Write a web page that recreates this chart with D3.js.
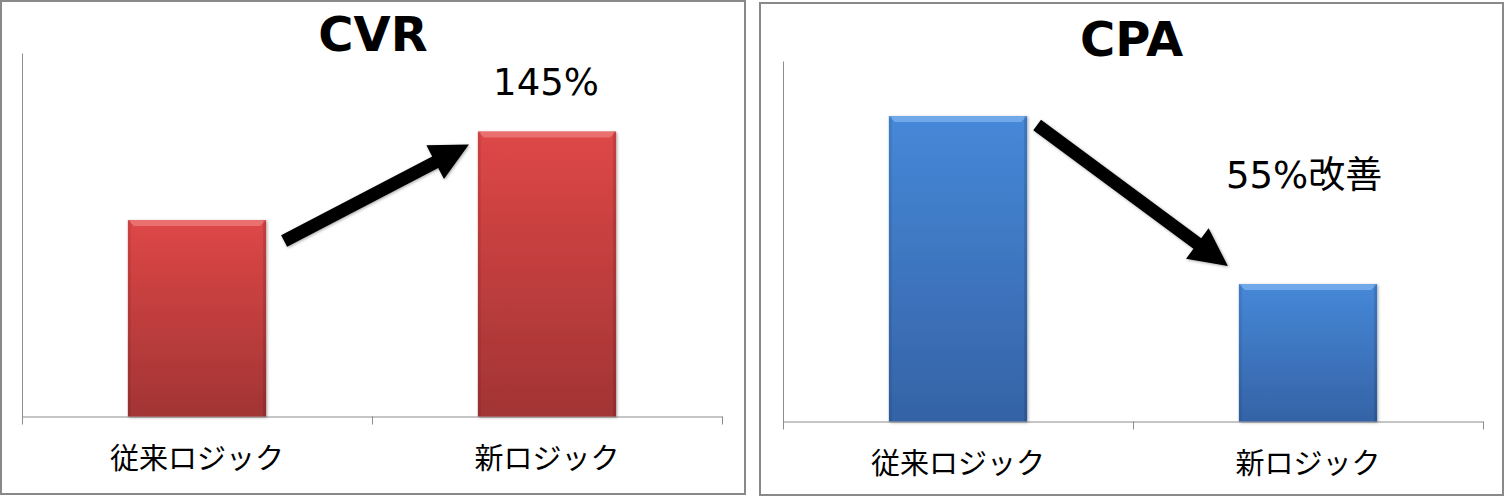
<!DOCTYPE html>
<html>
<head>
<meta charset="utf-8">
<script src="https://cdn.jsdelivr.net/npm/d3@7"></script>
<style>
  body { margin: 0; background: #fff; }
  svg { display: block; }
</style>
</head>
<body>
<script>
// Chart data
const categories = ["従来ロジック", "新ロジック"];
const titles = ["CVR", "CPA"];
const cvrValues = [1.00, 1.45];
const cpaValues = [1.00, 0.45];
const annotations = ["145%", "55%改善"];
const yMax = [1.85, 1.18];

const svg = d3.select("body")
    .append("svg")
    .attr("width", 1506)
    .attr("height", 497);

const defs = svg.append("defs");

// Bar gradients and shadow
const gradients = [
    { id: "redGrad", top: "#de4747", bottom: "#a23434", bevel: "#ee7b7b" },
    { id: "blueGrad", top: "#4688d8", bottom: "#3563a6", bevel: "#7cb0ee" }
];
gradients.forEach(g => {
    const lg = defs.append("linearGradient")
        .attr("id", g.id)
        .attr("x1", 0).attr("y1", 0).attr("x2", 0).attr("y2", 1);
    lg.append("stop").attr("offset", "0%").attr("stop-color", g.top);
    lg.append("stop").attr("offset", "100%").attr("stop-color", g.bottom);
});

const shadow = defs.append("filter")
    .attr("id", "shadow")
    .attr("x", "-10%").attr("y", "-10%")
    .attr("width", "130%").attr("height", "130%");
shadow.append("feDropShadow")
    .attr("dx", 1).attr("dy", 1)
    .attr("stdDeviation", 1.5)
    .attr("flood-color", "#000")
    .attr("flood-opacity", 0.35);

// Panel layout
const panels = [
    {
        frame: [1, 1, 744, 493], x0: 22, x1: 722, yTop: 53, yBase: 416.5,
        titleY: 51, values: cvrValues, max: yMax[0], grad: gradients[0],
        note: annotations[0], noteX: 546, noteY: 95, noteAnchor: "middle",
        tailOff: [18, 21], tipOff: [-9, 13]
    },
    {
        frame: [760, 3, 743, 492], x0: 783, x1: 1483, yTop: 61, yBase: 421.5,
        titleY: 56, values: cpaValues, max: yMax[1], grad: gradients[1],
        note: annotations[1], noteX: 1226, noteY: 188, noteAnchor: "start",
        tailOff: [10, 9], tipOff: [-11, -18]
    }
];

// Thick arrow polygon from tail to tip
function arrowPoints(tail, tip) {
    const shaft = 6.5, headLen = 38, headHalf = 19;
    const dx = tip[0] - tail[0], dy = tip[1] - tail[1];
    const len = Math.hypot(dx, dy);
    const ux = dx / len, uy = dy / len;
    const nx = -uy, ny = ux;
    const bx = tip[0] - ux * headLen, by = tip[1] - uy * headLen;
    return [
        [tail[0] + nx * shaft, tail[1] + ny * shaft],
        [bx + nx * shaft, by + ny * shaft],
        [bx + nx * headHalf, by + ny * headHalf],
        tip,
        [bx - nx * headHalf, by - ny * headHalf],
        [bx - nx * shaft, by - ny * shaft],
        [tail[0] - nx * shaft, tail[1] - ny * shaft]
    ].map(p => p.join(",")).join(" ");
}

panels.forEach((p, i) => {
    const g = svg.append("g");

    // Outer frame
    g.append("rect")
        .attr("x", p.frame[0]).attr("y", p.frame[1])
        .attr("width", p.frame[2]).attr("height", p.frame[3])
        .attr("fill", "#fff")
        .attr("stroke", "#898989")
        .attr("stroke-width", 2);

    const x = d3.scaleBand()
        .domain(categories)
        .range([p.x0, p.x1])
        .paddingInner(0.605)
        .paddingOuter(0.3025);

    const y = d3.scaleLinear()
        .domain([0, p.max])
        .range([p.yBase, p.yTop]);

    // Title
    g.append("text")
        .attr("x", (p.frame[0] * 2 + p.frame[2]) / 2)
        .attr("y", p.titleY)
        .attr("text-anchor", "middle")
        .attr("font-family", "'DejaVu Sans', sans-serif")
        .attr("font-weight", "bold")
        .attr("font-size", 48)
        .text(titles[i]);

    // Value axis: line only
    g.append("g")
        .attr("transform", `translate(${p.x0},0)`)
        .call(d3.axisLeft(y).tickValues([]).tickSizeOuter(0))
        .select(".domain")
        .attr("stroke", "#8c8c8c");

    // Category axis: ticks at band boundaries
    const edges = d3.scaleLinear().domain([0, categories.length]).range([p.x0, p.x1]);
    const xAxis = g.append("g")
        .attr("transform", `translate(0,${p.yBase})`)
        .call(d3.axisBottom(edges)
            .tickValues(d3.range(categories.length + 1))
            .tickFormat("")
            .tickSize(8)
            .tickSizeOuter(0));
    xAxis.selectAll("line, path").attr("stroke", "#8c8c8c");

    // Category labels
    g.append("g")
        .attr("transform", `translate(0,${p.yBase})`)
        .call(d3.axisBottom(x).tickSize(0).tickPadding(0))
        .call(a => a.select(".domain").remove())
        .selectAll("text")
        .attr("dy", null)
        .attr("y", 52)
        .attr("fill", "#000")
        .attr("font-family", "'Noto Sans CJK JP', sans-serif")
        .attr("font-size", 29);

    // Bars
    const bars = g.selectAll(".bar")
        .data(p.values)
        .enter()
        .append("g")
        .attr("class", "bar");

    bars.append("rect")
        .attr("x", (d, j) => x(categories[j]))
        .attr("y", d => y(d))
        .attr("width", x.bandwidth())
        .attr("height", d => p.yBase - y(d))
        .attr("fill", `url(#${p.grad.id})`)
        .attr("filter", "url(#shadow)");

    // Top bevel
    bars.append("polygon")
        .attr("points", (d, j) => {
            const bx = x(categories[j]), by = y(d), w = x.bandwidth(), b = 6;
            return [[bx, by], [bx + w, by], [bx + w - b, by + b], [bx + b, by + b]]
                .map(q => q.join(",")).join(" ");
        })
        .attr("fill", p.grad.bevel)
        .attr("opacity", 0.8);

    // Side bevels
    bars.append("rect")
        .attr("x", (d, j) => x(categories[j]))
        .attr("y", d => y(d))
        .attr("width", 3)
        .attr("height", d => p.yBase - y(d))
        .attr("fill", "#000")
        .attr("opacity", 0.08);
    bars.append("rect")
        .attr("x", (d, j) => x(categories[j]) + x.bandwidth() - 3)
        .attr("y", d => y(d))
        .attr("width", 3)
        .attr("height", d => p.yBase - y(d))
        .attr("fill", "#000")
        .attr("opacity", 0.12);

    // Arrow between bars
    const tail = [x(categories[0]) + x.bandwidth() + p.tailOff[0], y(p.values[0]) + p.tailOff[1]];
    const tip = [x(categories[1]) + p.tipOff[0], y(p.values[1]) + p.tipOff[1]];
    g.append("polygon")
        .attr("points", arrowPoints(tail, tip))
        .attr("fill", "#000")
        .attr("filter", "url(#shadow)");

    // Annotation
    g.append("text")
        .attr("x", p.noteX)
        .attr("y", p.noteY)
        .attr("text-anchor", p.noteAnchor)
        .attr("font-family", "'DejaVu Sans', 'Noto Sans CJK JP', sans-serif")
        .attr("font-size", 37)
        .text(p.note);
});
</script>
</body>
</html>
